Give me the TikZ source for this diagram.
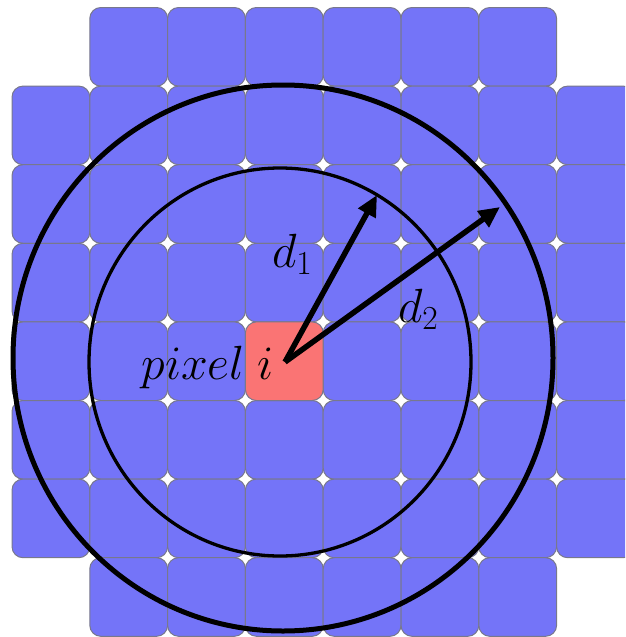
\documentclass[tikz,border=0pt]{standalone}
\usepackage{fix-cm}
\usetikzlibrary{arrows.meta}
\definecolor{cellblue}{RGB}{116,116,248}
\definecolor{cellred}{RGB}{250,116,116}
\definecolor{cellline}{RGB}{120,120,140}
\begin{document}
\begin{tikzpicture}[x=1pt,y=-1pt,
  cell/.style={draw=cellline, line width=1pt, fill=cellblue, rounded corners=11pt,
    minimum width=77.8pt, minimum height=78.6pt, inner sep=0pt, outer sep=0pt},
  redcell/.style={cell, fill=cellred},
  ring/.style={draw=black},
  arr/.style={line width=5.5pt, -{Triangle[length=21pt,width=19pt]}},
  lbl/.style={font=\fontsize{48}{52}\selectfont, inner sep=0pt, outer sep=0pt}]
\useasboundingbox (0,0) rectangle (625,637);
\clip (0,0) rectangle (625,637);
\foreach \c in {0,...,7} {
  \foreach \r in {0,...,7} {
    \pgfmathtruncatemacro\corner{((\c==0)||(\c==7))&&((\r==0)||(\r==7))}
    \pgfmathtruncatemacro\centre{(\c==3)&&(\r==4)}
    \ifnum\corner=0
      \ifnum\centre=0
        \node[cell] (c-\c-\r) at ({12+77.8*\c+38.9},{7.5+78.6*\r+39.3}) {};
      \fi
    \fi
  }
}
\node[redcell] (pix) at (284.3,361.2) {};
\draw[ring, line width=5pt] (283,358) ellipse [x radius=270pt, y radius=273pt];
\draw[ring, line width=3.3pt] (280,362) ellipse [x radius=191pt, y radius=194pt];
\coordinate (o) at (285,362);
\coordinate (t1) at (377,195);
\coordinate (t2) at (500,207);
\draw[arr] (o) -- (t1);
\draw[arr] (o) -- (t2);
\node[lbl, anchor=base west] (d1) at (272,267) {$d_1$};
\node[lbl, anchor=base west] (d2) at (398,322) {$d_2$};
\node[lbl, anchor=base east] (pl) at (274,379) {$pixel\;i$};
\end{tikzpicture}
\end{document}
